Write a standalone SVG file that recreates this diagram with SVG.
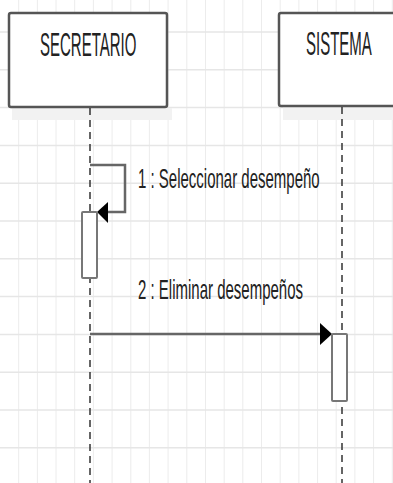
<svg xmlns="http://www.w3.org/2000/svg" width="393" height="483" viewBox="0 0 393 483">
<style>
.gv{stroke:#ececec;stroke-width:1}
.gh{stroke:#e6e6e6;stroke-width:1.5}
.box{fill:#ffffff;stroke:#555555;stroke-width:2.5}
.shadow{fill:#f2f2f2}
.life{stroke:#333333;stroke-width:1.5;stroke-dasharray:7 5;fill:none}
.act{fill:#ffffff;stroke:#777777;stroke-width:2}
.msg{stroke:#666666;stroke-width:2.5;fill:none}
.head{fill:#000000}
.lbl{font-family:"Liberation Sans",Arial,sans-serif;font-size:15px;fill:#222222}
</style>
<rect x="0" y="0" width="393" height="483" fill="#ffffff"/>
<g id="grid">
<line class="gv" x1="18.7" y1="0" x2="18.7" y2="483"/>
<line class="gv" x1="37.4" y1="0" x2="37.4" y2="483"/>
<line class="gv" x1="56" y1="0" x2="56" y2="483"/>
<line class="gv" x1="74.7" y1="0" x2="74.7" y2="483"/>
<line class="gv" x1="93.4" y1="0" x2="93.4" y2="483"/>
<line class="gv" x1="112.1" y1="0" x2="112.1" y2="483"/>
<line class="gv" x1="130.8" y1="0" x2="130.8" y2="483"/>
<line class="gv" x1="149.4" y1="0" x2="149.4" y2="483"/>
<line class="gv" x1="168.1" y1="0" x2="168.1" y2="483"/>
<line class="gv" x1="186.8" y1="0" x2="186.8" y2="483"/>
<line class="gv" x1="205.5" y1="0" x2="205.5" y2="483"/>
<line class="gv" x1="224.2" y1="0" x2="224.2" y2="483"/>
<line class="gv" x1="242.8" y1="0" x2="242.8" y2="483"/>
<line class="gv" x1="261.5" y1="0" x2="261.5" y2="483"/>
<line class="gv" x1="280.2" y1="0" x2="280.2" y2="483"/>
<line class="gv" x1="298.9" y1="0" x2="298.9" y2="483"/>
<line class="gv" x1="317.6" y1="0" x2="317.6" y2="483"/>
<line class="gv" x1="336.2" y1="0" x2="336.2" y2="483"/>
<line class="gv" x1="354.9" y1="0" x2="354.9" y2="483"/>
<line class="gv" x1="373.6" y1="0" x2="373.6" y2="483"/>
<line class="gv" x1="392.3" y1="0" x2="392.3" y2="483"/>
<line class="gh" x1="0" y1="32" x2="393" y2="32"/>
<line class="gh" x1="0" y1="69.8" x2="393" y2="69.8"/>
<line class="gh" x1="0" y1="107.6" x2="393" y2="107.6"/>
<line class="gh" x1="0" y1="145.4" x2="393" y2="145.4"/>
<line class="gh" x1="0" y1="183.2" x2="393" y2="183.2"/>
<line class="gh" x1="0" y1="221" x2="393" y2="221"/>
<line class="gh" x1="0" y1="258.8" x2="393" y2="258.8"/>
<line class="gh" x1="0" y1="296.6" x2="393" y2="296.6"/>
<line class="gh" x1="0" y1="334.4" x2="393" y2="334.4"/>
<line class="gh" x1="0" y1="372.2" x2="393" y2="372.2"/>
<line class="gh" x1="0" y1="410" x2="393" y2="410"/>
<line class="gh" x1="0" y1="447.8" x2="393" y2="447.8"/>
</g>
<g id="secretario">
<rect class="shadow" x="12" y="108" width="160" height="12"/>
<rect class="box" x="9" y="13" width="158" height="94" rx="2"/>
<text class="lbl" transform="translate(40,56) scale(1,2.2)" x="0" y="0">SECRETARIO</text>
</g>
<g id="sistema">
<rect class="shadow" x="283" y="107" width="112" height="13"/>
<rect class="box" x="279" y="13" width="120" height="93" rx="2"/>
<text class="lbl" transform="translate(306,55) scale(1,2.2)" x="0" y="0">SISTEMA</text>
</g>
<g id="connectors">
<line class="life" x1="90" y1="108" x2="90" y2="483"/>
<line class="life" x1="342" y1="107" x2="342" y2="483"/>
<polyline class="msg" points="90,165 125,165 125,212 106,212"/>
<polygon class="head" points="97,212 108,202 108,223"/>
<line class="msg" x1="90" y1="334" x2="322" y2="334" stroke-width="3"/>
<polygon class="head" points="332,334 320,323 320,345"/>
<text class="lbl" transform="translate(138,188) scale(1,1.85)" x="0" y="0">1 : Seleccionar desempeño</text>
<text class="lbl" transform="translate(138,299) scale(1,1.9)" x="0" y="0">2 : Eliminar desempeños</text>
</g>
<g id="activation-secretario">
<rect class="act" x="82" y="212" width="15" height="66" rx="1"/>
</g>
<g id="activation-sistema">
<rect class="act" x="332" y="334" width="15" height="67" rx="1"/>
</g>
</svg>
